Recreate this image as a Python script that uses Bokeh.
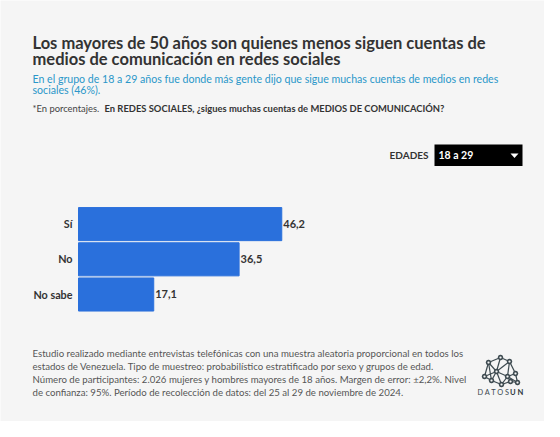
from bokeh.plotting import figure
from bokeh.models import Label, BoxAnnotation, PolyAnnotation, Range1d
from bokeh.core.properties import value
from bokeh.embed import file_html
from bokeh.resources import INLINE
import math

categories = ["Sí", "No", "No sabe"]
values = [46.2, 36.5, 17.1]
value_labels = ["46,2", "36,5", "17,1"]

title_lines = ["Los mayores de 50 años son quienes menos siguen cuentas de",
               "medios de comunicación en redes sociales"]
subtitle_lines = ["En el grupo de 18 a 29 años fue donde más gente dijo que sigue muchas cuentas de medios en redes",
                  "sociales (46%)."]
note_light = "*En porcentajes. "
note_bold = "En REDES SOCIALES, ¿sigues muchas cuentas de MEDIOS DE COMUNICACIÓN?"
footer_lines = ["Estudio realizado mediante entrevistas telefónicas con una muestra aleatoria proporcional en todos los",
                "estados de Venezuela. Tipo de muestreo: probabilístico estratificado por sexo y grupos de edad.",
                "Número de participantes: 2.026 mujeres y hombres mayores de 18 años. Margen de error: ±2,2%. Nivel",
                "de confianza: 95%. Período de recolección de datos: del 25 al 29 de noviembre de 2024."]
selector_label = "EDADES"
selector_value = "18 a 29"
brand_a, brand_b = "DATOS", "UN"

BG = "#f5f5f5"
FONT = "Lato"
W, H = 544, 421
X0 = 78            # pixel of the value axis zero
PX_PER_UNIT = 4.40
ROW_TOP, ROW_STEP = 206.0, 35.2

ys = list(range(len(categories)))  # rows, counted from the top

p = figure(width=W, height=H, output_backend="svg", toolbar_location=None,
           x_range=Range1d(-X0 / PX_PER_UNIT, (W - X0) / PX_PER_UNIT),
           y_range=Range1d((H - ROW_TOP) / ROW_STEP - 0.5, -ROW_TOP / ROW_STEP - 0.5),
           min_border=0, background_fill_color=BG, border_fill_color=BG,
           outline_line_color=None)
p.grid.visible = False
p.axis.visible = False

p.hbar(y=ys, right=values, left=0, height=0.94, color="#2a70dc")
p.text(x=values, y=ys, text=value_labels, x_offset=1.5, y_offset=-0.5, text_baseline="middle",
       text_font=value(FONT), text_font_style="bold", text_font_size="11px", text_color="#333333")
p.text(x=[0] * len(ys), y=ys, text=categories, x_offset=-6, y_offset=-0.5, text_align="right", text_baseline="middle",
       text_font=value(FONT), text_font_style="bold", text_font_size="10.8px", text_color="#333333")


def txt(x, y, s, size, color="#333333", style="normal", align="left"):
    p.add_layout(Label(x=x, y=y, x_units="canvas", y_units="canvas", text=s,
                       text_font=FONT, text_font_size=f"{size}px", text_color=color,
                       text_font_style=style, text_align=align, text_baseline="middle"))


def poly(xs, ys_, **kw):
    p.add_layout(PolyAnnotation(xs=xs, ys=ys_, xs_units="canvas", ys_units="canvas", **kw))


for i, s in enumerate(title_lines):
    txt(32, 42 + i * 16.5, s, 16.5, "#333333", "bold")
for i, s in enumerate(subtitle_lines):
    txt(32, 78.5 + i * 11, s, 10.6, "#2a97c9")
txt(32, 107.5, note_light, 9.4, "#444444")
txt(104, 107.5, note_bold, 9.4, "#333333", "bold")
for i, s in enumerate(footer_lines):
    txt(32, 352 + i * 13, s, 9.65, "#555555")

# selector
txt(428, 154.5, selector_label, 10, "#333333", "bold", "right")
p.add_layout(BoxAnnotation(left=434, right=522, top=144, bottom=165.5,
                           left_units="canvas", right_units="canvas", top_units="canvas", bottom_units="canvas",
                           fill_color="#000000", fill_alpha=1, line_color=None))
txt(438, 154.5, selector_value, 10.5, "#ffffff", "bold")
poly([510, 518, 514], [153, 153, 157.5], fill_color="#ffffff", fill_alpha=1, line_color=None)

# logo
nodes = [(500, 357), (488, 362), (509, 361), (484, 376), (496, 371), (507, 376), (515, 373),
         (517, 382), (501, 384), (491, 380), (510, 381)]
edges = [(0, 1), (0, 2), (1, 3), (1, 4), (0, 4), (2, 4), (2, 5), (2, 6), (3, 4), (3, 9), (4, 5), (4, 9),
         (4, 8), (5, 6), (5, 8), (5, 10), (6, 7), (7, 10), (8, 9), (8, 10), (9, 1), (5, 7)]
for a, b in edges:
    poly([nodes[a][0], nodes[b][0]], [nodes[a][1], nodes[b][1]], fill_alpha=0,
         line_color="#3d4a50", line_width=1.2, line_alpha=1)
for (nx, ny) in nodes:
    r = 2.0
    poly([nx + r * math.cos(k * math.pi / 4) for k in range(8)],
         [ny + r * math.sin(k * math.pi / 4) for k in range(8)],
         fill_color=BG, fill_alpha=1, line_color="#3d4a50", line_width=1.6, line_alpha=1)
txt(477, 391.5, " ".join(brand_a), 7.4, "#3d4a50")
txt(509.5, 391.5, " ".join(brand_b), 7.6, "#2f3a40", "bold")

open("out.html", "w").write(file_html(p, INLINE))
